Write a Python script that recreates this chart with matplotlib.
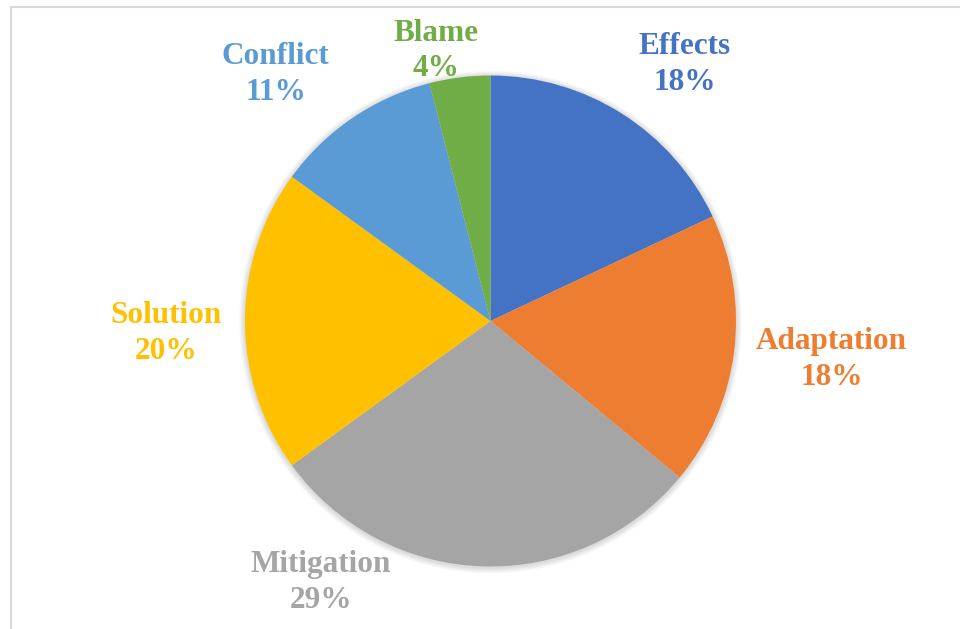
import matplotlib.pyplot as plt
from matplotlib.patches import Rectangle, Circle

# slice data, clockwise from 12 o'clock
categories = ["Effects", "Adaptation", "Mitigation", "Solution", "Conflict", "Blame"]
shares = [18, 18, 29, 20, 11, 4]
colors = ["#4472C4", "#ED7D31", "#A5A5A5", "#FFC000", "#5B9BD5", "#70AD47"]

# label anchor points in pie units (radius = 1)
label_pos = {
    "Effects": (0.79, 1.045),
    "Adaptation": (1.39, -0.157),
    "Mitigation": (-0.69, -1.065),
    "Solution": (-1.32, -0.05),
    "Conflict": (-0.875, 1.005),
    "Blame": (-0.222, 1.10),
}

W, H = 960, 629
fig = plt.figure(figsize=(W / 100, H / 100), dpi=100)
fig.patch.set_facecolor("white")

# light frame around the chart area (right/bottom run off the image)
fig.patches.append(Rectangle((11 / W, -0.05), 1.2, 1 - 7 / H + 0.05,
                             transform=fig.transFigure, fill=False,
                             edgecolor="#d9d9d9", linewidth=1.5))

cx, cy, r = 490.5, 321, 245.5
ax = fig.add_axes([(cx - r) / W, (H - cy - r) / H, 2 * r / W, 2 * r / H])

wedges, _ = ax.pie(shares, colors=colors, startangle=90, counterclock=False,
                   radius=1.0, wedgeprops=dict(linewidth=0))
for w in wedges:
    w.set_zorder(2)

# pie() resets the limits, so pin them afterwards
ax.set_xlim(-1, 1)
ax.set_ylim(-1, 1)
ax.axis("off")

# faint soft shadow round the pie
for i in range(6):
    ax.add_patch(Circle((0, -0.004), 1.0 + 0.004 * (i + 1), color="#000000",
                        alpha=0.025, zorder=0, linewidth=0, clip_on=False))

for name, val, col in zip(categories, shares, colors):
    x, y = label_pos[name]
    ax.text(x, y, f"{name}\n{val}%", ha="center", va="center", color=col,
            fontsize=22.5, fontweight="bold", family="Liberation Serif",
            linespacing=1.3, clip_on=False, zorder=3)

fig.savefig("out.png", dpi=100)
